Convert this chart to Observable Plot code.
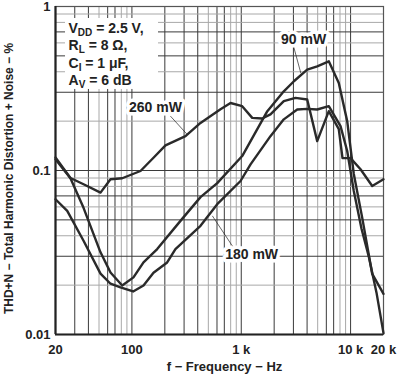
<!DOCTYPE html>
<html><head><meta charset="utf-8">
<script src="https://cdn.jsdelivr.net/npm/d3@7"></script>
<script src="https://cdn.jsdelivr.net/npm/@observablehq/plot@0.6"></script>
<style>
html,body{margin:0;padding:0;background:#fff;}
#chart{width:401px;height:375px;overflow:hidden;}
svg{overflow:visible;}
</style></head><body><div id="chart"></div>
<script>
// ---- data ----
const seriesNames = ["90 mW", "180 mW", "260 mW"];

const freq90 = [20, 27.4, 36.1, 51.6, 63.7, 81.5, 103.3, 127.6, 170.3, 278, 424, 603, 1020, 1732, 2450, 3030, 4010, 4950, 6320, 7800, 9310, 10700, 12770, 15770, 20000];
const thd90  = [0.117, 0.0897, 0.0592, 0.0317, 0.0239, 0.0199, 0.0223, 0.0275, 0.0332, 0.0493, 0.0688, 0.0838, 0.1225, 0.230, 0.304, 0.350, 0.412, 0.432, 0.463, 0.342, 0.2, 0.0952, 0.0516, 0.0234, 0.0177];

const freq180 = [20, 25.6, 36.1, 51.6, 63.7, 78.6, 102.6, 127.6, 157.5, 210, 250, 424, 603, 985, 1216, 1850, 2450, 3250, 4010, 4950, 6320, 8090, 9310, 10700, 12590, 14680, 17260, 20000];
const thd180  = [0.0668, 0.0567, 0.0373, 0.0235, 0.0204, 0.0194, 0.0183, 0.0199, 0.0238, 0.0275, 0.0332, 0.046, 0.0623, 0.0863, 0.109, 0.162, 0.205, 0.2355, 0.2375, 0.2355, 0.2466, 0.1865, 0.1314, 0.075, 0.0441, 0.0298, 0.018, 0.0102];

const freq260 = [20, 27.4, 36.1, 51.6, 63.7, 81.5, 119.8, 157.5, 202.8, 309, 424, 646, 798, 1020, 1260, 1554, 1850, 2450, 3135, 4010, 4950, 6320, 7800, 8434, 9980, 12330, 15770, 20000];
const thd260  = [0.12, 0.090, 0.0824, 0.0733, 0.0884, 0.0897, 0.0993, 0.1196, 0.1423, 0.162, 0.195, 0.2365, 0.258, 0.2466, 0.2094, 0.2076, 0.2197, 0.2646, 0.277, 0.271, 0.151, 0.230, 0.1788, 0.119, 0.119, 0.1017, 0.0805, 0.0884];

const xTicks = [20, 100, 1000, 10000, 20000];
const xTickLabels = ["20", "100", "1 k", "10 k", "20 k"];
const yTicks = [0.01, 0.1, 1];
const yTickLabels = ["0.01", "0.1", "1"];

const xGrid = [30,40,50,60,70,80,90,100,200,300,400,500,600,700,800,900,1000,2000,3000,4000,5000,6000,7000,8000,9000,10000];
const yGrid = [0.02,0.03,0.04,0.05,0.06,0.07,0.08,0.09,0.1,0.2,0.3,0.4,0.5,0.6,0.7,0.8,0.9];

const xTitle = "f \u2212 Frequency \u2212 Hz";
const yTitle = "THD+N \u2212 Total Harmonic Distortion + Noise \u2212 %";

const specMain = ["V", "R", "C", "A"];
const specSub  = ["DD", "L", "I", "V"];
const specRest = [" = 2.5 V,", " = 8 \u03A9,", " = 1 \u03BCF,", " = 6 dB"];
const specY    = [0.735, 0.579, 0.45, 0.355];
const specX    = 26.3;

const labelText = ["260 mW", "90 mW", "180 mW"];
const labelF    = [164, 3714, 1244];
const labelV    = [0.243, 0.63, 0.0306];
const leaderF1  = [225, 3010, 544];
const leaderV1  = [0.2146, 0.571, 0.0529];
const leaderF2  = [320, 3508, 850];
const leaderV2  = [0.166, 0.392, 0.0338];

// ---- build tables ----
const rows = [];
[[freq90, thd90], [freq180, thd180], [freq260, thd260]].forEach(([fs, vs], s) => {
  fs.forEach((f, i) => rows.push({series: seriesNames[s], f, v: vs[i]}));
});
const xTickRows = xTicks.map((d, i) => ({x: d, t: xTickLabels[i]}));
const yTickRows = yTicks.map((d, i) => ({y: d, t: yTickLabels[i]}));
const specFull = specMain.map((m, i) => m + specSub[i] + specRest[i]);
const specRows = specFull.map((t, i) => ({t, x: specX, y: specY[i]}));
const labels = labelText.map((t, i) => ({t, x: labelF[i], y: labelV[i]}));
const leaders = labelText.map((t, i) => ({x1: leaderF1[i], y1: leaderV1[i], x2: leaderF2[i], y2: leaderV2[i]}));
const specBox = [{x1: 24.7, x2: 175, y1: 0.845, y2: 0.312}];

const lead = d => String(d).replace(/0|\./g, "")[0];
const lightX = d => ["5", "8", "9"].includes(lead(d));
const lightY = d => ["2", "4", "6", "8", "9"].includes(lead(d));

const font = "Arial, 'Liberation Sans', Helvetica, sans-serif";

const plot = Plot.plot({
  width: 401, height: 375,
  marginLeft: 55, marginRight: 18, marginTop: 6, marginBottom: 41,
  x: {type: "log", domain: [20, 20000], axis: null},
  y: {type: "log", domain: [0.01, 1], axis: null},
  style: {fontFamily: font, background: "#fff", color: "#222"},
  marks: [
    Plot.ruleX(xGrid, {stroke: d => lightX(d) ? "#a8a8a8" : "#3a3a3a", strokeWidth: 1}),
    Plot.ruleY(yGrid, {stroke: d => lightY(d) ? "#a8a8a8" : "#3a3a3a", strokeWidth: 1}),
    Plot.rect(specBox, {x1: "x1", x2: "x2", y1: "y1", y2: "y2", fill: "white"}),
    Plot.frame({stroke: "#555", strokeWidth: 1.2}),
    Plot.ruleX([20], {stroke: "#222", strokeWidth: 2.2}),
    Plot.ruleY([0.01], {stroke: "#222", strokeWidth: 2.2}),
    Plot.link(leaders, {x1: "x1", y1: "y1", x2: "x2", y2: "y2", stroke: "#222", strokeWidth: 0.7}),
    Plot.line(rows, {x: "f", y: "v", z: "series", stroke: "#2a2a2a", strokeWidth: 2.4, strokeLinejoin: "round"}),
    Plot.text(labels, {x: "x", y: "y", text: "t", fill: "#222", stroke: "white", strokeWidth: 7, fontSize: 14, fontWeight: "bold"}),
    Plot.text(specRows, {x: "x", y: "y", text: "t", textAnchor: "start", fill: "#222", fontSize: 14, fontWeight: "bold"}),
    Plot.text(xTickRows, {x: "x", text: "t", frameAnchor: "bottom", lineAnchor: "middle", textAnchor: "middle", dy: 15, fontSize: 13, fontWeight: "bold", fill: "#222"}),
    Plot.text(yTickRows, {y: "y", text: "t", frameAnchor: "left", lineAnchor: "middle", textAnchor: "end", dx: -5, fontSize: 13, fontWeight: "bold", fill: "#222"}),
    Plot.text([xTitle], {frameAnchor: "bottom", lineAnchor: "middle", textAnchor: "middle", dx: 5, dy: 32, fontSize: 13, fontWeight: "bold", fill: "#222"}),
    Plot.text([yTitle], {frameAnchor: "left", lineAnchor: "middle", textAnchor: "middle", rotate: -90, dx: -46, dy: 8, fontSize: 12, fontWeight: "bold", fill: "#222"})
  ]
});

// subscripts for the condition lines
d3.select(plot).selectAll("text").each(function() {
  const i = specFull.indexOf(this.textContent);
  if (i < 0) return;
  const t = d3.select(this);
  t.text(null);
  t.append("tspan").text(specMain[i]);
  t.append("tspan").attr("font-size", 10).attr("dy", 3).text(specSub[i]);
  t.append("tspan").attr("dy", -3).text(specRest[i]);
});

document.getElementById("chart").append(plot);
</script>
</body></html>
